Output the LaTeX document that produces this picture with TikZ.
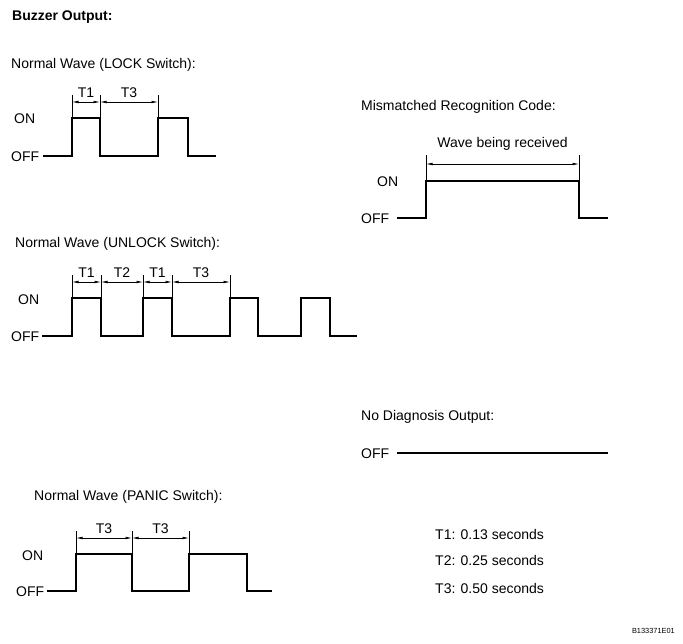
\documentclass[tikz,border=0pt]{standalone}
\usepackage{fontspec}
\setmainfont{Liberation Sans}
\usetikzlibrary{arrows.meta}

\tikzset{
  wave/.style={line width=1.7pt, line join=miter},
  mark line/.style={line width=0.6pt},
  span/.style={line width=0.6pt, {Latex[length=6.5pt,width=2.6pt]}-{Latex[length=6.5pt,width=2.6pt]}},
  txt/.style={anchor=base west, inner sep=0pt},
  tlabel/.style={anchor=base, inner sep=0pt, yshift=5pt},
}

\begin{document}
\begin{tikzpicture}[x=1pt,y=-1pt,font=\fontsize{14}{17}\selectfont]
  \useasboundingbox (0,0) rectangle (683,643);

  \node[txt,font=\fontsize{14}{17}\selectfont\bfseries] (title) at (12,20) {Buzzer Output:};

  % LOCK switch
  \node[txt] (lockhead) at (11,68) {Normal Wave (LOCK Switch):};
  \node[txt] (lockon) at (14,123) {ON};
  \node[txt] (lockoff) at (11,161) {OFF};
  \draw[wave] (43,156) -- (72,156) -- (72,118) -- (100,118) -- (100,156)
    -- (158,156) -- (158,118) -- (188,118) -- (188,156) -- (216,156);
  \foreach \x in {72,100,158}
    \draw[mark line] (\x,95) -- (\x,118);
  \coordinate (la) at (72,102);
  \coordinate (lb) at (100,102);
  \coordinate (lc) at (158,102);
  \draw[span] (la) -- (lb) node[midway,tlabel] (lt1) {T1};
  \draw[span] (lb) -- (lc) node[midway,tlabel] (lt3) {T3};

  % UNLOCK switch
  \node[txt] (unlockhead) at (15,247) {Normal Wave (UNLOCK Switch):};
  \node[txt] (unlockon) at (18,304) {ON};
  \node[txt] (unlockoff) at (11,341) {OFF};
  \draw[wave] (42,336) -- (72,336) -- (72,298) -- (101,298) -- (101,336)
    -- (143,336) -- (143,298) -- (172,298) -- (172,336)
    -- (230,336) -- (230,298) -- (258,298) -- (258,336)
    -- (301,336) -- (301,298) -- (330,298) -- (330,336) -- (357,336);
  \foreach \x in {72,101,143,172,230}
    \draw[mark line] (\x,275) -- (\x,298);
  \coordinate (ua) at (72,282);
  \coordinate (ub) at (101,282);
  \coordinate (uc) at (143,282);
  \coordinate (ud) at (172,282);
  \coordinate (ue) at (230,282);
  \draw[span] (ua) -- (ub) node[midway,tlabel] (ut1) {T1};
  \draw[span] (ub) -- (uc) node[midway,tlabel] (ut2) {T2};
  \draw[span] (uc) -- (ud) node[midway,tlabel] (ut1b) {T1};
  \draw[span] (ud) -- (ue) node[midway,tlabel] (ut3) {T3};

  % PANIC switch
  \node[txt] (panichead) at (34,500) {Normal Wave (PANIC Switch):};
  \node[txt] (panicon) at (22,560) {ON};
  \node[txt] (panicoff) at (16,596) {OFF};
  \draw[wave] (47,591) -- (76,591) -- (76,554) -- (132,554) -- (132,591)
    -- (189,591) -- (189,554) -- (247,554) -- (247,591) -- (272,591);
  \foreach \x in {76,132,189}
    \draw[mark line] (\x,531) -- (\x,554);
  \coordinate (pa) at (76,538);
  \coordinate (pb) at (132,538);
  \coordinate (pc) at (189,538);
  \draw[span] (pa) -- (pb) node[midway,tlabel] (pt3) {T3};
  \draw[span] (pb) -- (pc) node[midway,tlabel] (pt3b) {T3};

  % mismatched code
  \node[txt] (mishead) at (361,110) {Mismatched Recognition Code:};
  \node[txt] (mison) at (377,186) {ON};
  \node[txt] (misoff) at (361,223) {OFF};
  \draw[wave] (397,218) -- (426,218) -- (426,181) -- (579,181) -- (579,218) -- (608,218);
  \foreach \x in {426,579}
    \draw[mark line] (\x,155) -- (\x,181);
  \coordinate (ma) at (426,164);
  \coordinate (mb) at (579,164);
  \draw[span] (ma) -- (mb);
  \node[anchor=base,inner sep=0pt] (recv) at (502.5,147) {Wave being received};

  % no diagnosis
  \node[txt] (nohead) at (361,420) {No Diagnosis Output:};
  \node[txt] (nooff) at (361,458) {OFF};
  \draw[wave] (397,453) -- (608,453);

  \node[txt] (tone) at (435,539) {T1: 0.13 seconds};
  \node[txt] (ttwo) at (435,565) {T2: 0.25 seconds};
  \node[txt] (tthree) at (435,593) {T3: 0.50 seconds};

  \node[anchor=base east,inner sep=0pt,font=\fontsize{7.4}{9}\selectfont] (code) at (675,633) {B133371E01};
\end{tikzpicture}
\end{document}
